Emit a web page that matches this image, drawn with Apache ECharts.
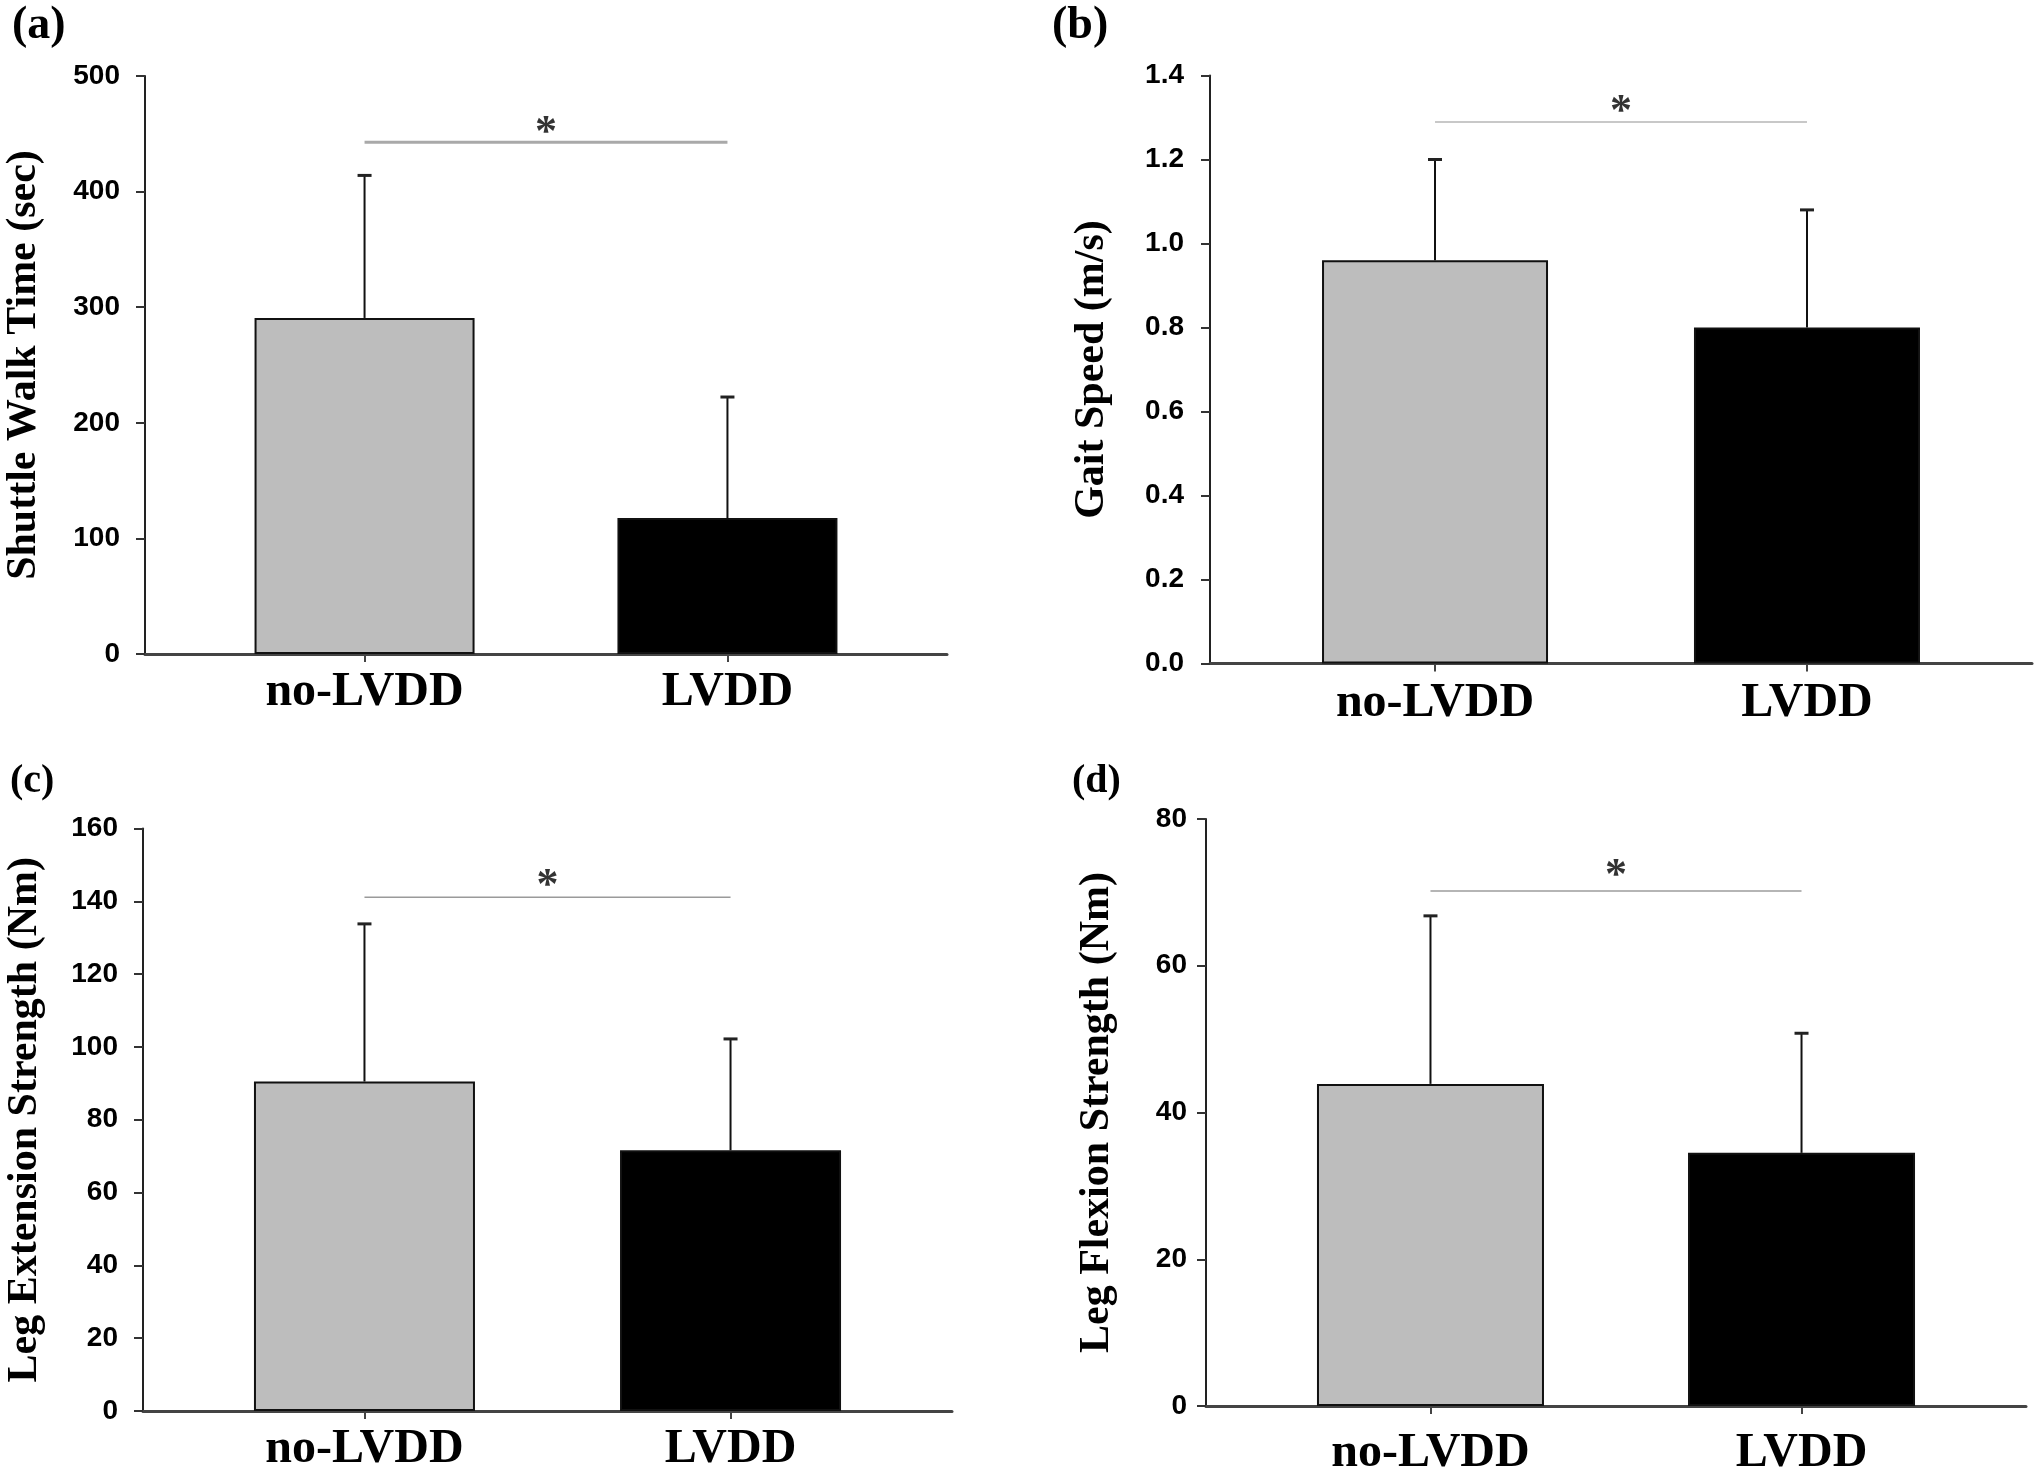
<!DOCTYPE html>
<html>
<head>
<meta charset="utf-8">
<script src="https://cdn.jsdelivr.net/npm/echarts@6/dist/echarts.min.js"></script>
<style>
html, body { margin: 0; padding: 0; background: #ffffff; }
#chart { width: 2040px; height: 1478px; }
</style>
</head>
<body>
<div id="chart"></div>
<script>
// ---------------- DATA ----------------
const categories = ['no-LVDD', 'LVDD'];
const panelLabels = ['(a)', '(b)', '(c)', '(d)'];
const yTitles = ['Shuttle Walk Time (sec)', 'Gait Speed (m/s)', 'Leg Extension Strength (Nm)', 'Leg Flexion Strength (Nm)'];

const shuttleMean = [290.7, 117.6];
const shuttleSD = [123.3, 104.7];
const gaitMean = [0.96, 0.80];
const gaitSD = [0.24, 0.28];
const extensionMean = [90.5, 71.6];
const extensionSD = [43.3, 30.6];
const flexionMean = [43.9, 34.5];
const flexionSD = [22.9, 16.3];

const sigLevels = [442.6, 1.289, 141.1, 70.2];
const sigMark = '*';

const yMax = [500, 1.4, 160, 80];
const yInterval = [100, 0.2, 20, 20];
const yDecimals = [0, 1, 0, 0];

const barColors = ['#bdbdbd', '#000000'];

// ---------------- LAYOUT / STYLE ----------------
const means = [shuttleMean, gaitMean, extensionMean, flexionMean];
const sds = [shuttleSD, gaitSD, extensionSD, flexionSD];

const layout = [
  { left: 145, top: 76, width: 802, height: 578, barWidth: 220, nameGap: 100, labelMargin: 25, catMargin: 15, starOff: -15, sigColor: '#a9a9a9', sigWidth: 3, lab: [12, 3], labSize: 46 },
  { left: 1210, top: 75.5, width: 822, height: 588, barWidth: 226, nameGap: 97, labelMargin: 26, catMargin: 16, starOff: -15, sigColor: '#c8c8c8', sigWidth: 2, lab: [1052, 3], labSize: 46 },
  { left: 143, top: 828.5, width: 809, height: 582.5, barWidth: 221, nameGap: 97, labelMargin: 25, catMargin: 15, starOff: -17, sigColor: '#9a9a9a', sigWidth: 1.5, lab: [10, 762], labSize: 40 },
  { left: 1206, top: 819, width: 820, height: 590.5, barWidth: 227, nameGap: 88, labelMargin: 19, catMargin: 24, starOff: -20, sigColor: '#b5b5b5', sigWidth: 2, lab: [1072, 762], labSize: 40 }
];

const serif = '"Liberation Serif", "Times New Roman", serif';
const sans = '"Liberation Sans", Arial, sans-serif';

const grids = [], xAxes = [], yAxes = [], series = [], graphics = [];

layout.forEach((L, i) => {
  grids.push({ left: L.left, top: L.top, width: L.width, height: L.height, containLabel: false });

  xAxes.push({
    type: 'value', gridIndex: i, min: -0.605, max: 1.605,
    splitLine: { show: false },
    axisLine: { show: true, onZero: false, lineStyle: { color: '#444444', width: 3 } },
    axisTick: { show: true, customValues: [0, 1], length: 8, lineStyle: { color: '#444444', width: 2 } },
    axisLabel: {
      customValues: [0, 1],
      formatter: v => categories[Math.round(v)],
      margin: L.catMargin,
      fontFamily: serif, fontWeight: 'bold', fontSize: 48, color: '#000'
    }
  });

  yAxes.push({
    type: 'value', gridIndex: i, min: 0, max: yMax[i], interval: yInterval[i],
    splitLine: { show: false },
    axisLine: { show: true, onZero: false, lineStyle: { color: '#222222', width: 2 } },
    axisTick: { show: true, length: 9, lineStyle: { color: '#333333', width: 2 } },
    axisLabel: {
      margin: L.labelMargin,
      formatter: v => Number(v).toFixed(yDecimals[i]),
      fontFamily: sans, fontWeight: 'bold', fontSize: 28, color: '#000'
    },
    name: yTitles[i], nameLocation: 'middle', nameGap: L.nameGap, nameRotate: 90,
    nameTextStyle: { fontFamily: serif, fontWeight: 'bold', fontSize: 42, color: '#000' }
  });

  // bars
  series.push({
    type: 'bar', xAxisIndex: i, yAxisIndex: i, barWidth: L.barWidth, z: 2,
    data: categories.map((c, k) => ({
      value: [k, means[i][k]],
      itemStyle: { color: barColors[k], borderColor: '#111111', borderWidth: 2 }
    }))
  });

  // error bars (upper only)
  series.push({
    type: 'custom', xAxisIndex: i, yAxisIndex: i, z: 3,
    data: categories.map((c, k) => [k, means[i][k], sds[i][k]]),
    renderItem: (params, api) => {
      const x = api.value(0), m = api.value(1), sd = api.value(2);
      const p0 = api.coord([x, m]);
      const p1 = api.coord([x, m + sd]);
      return {
        type: 'group',
        children: [
          { type: 'line', shape: { x1: p0[0], y1: p0[1], x2: p1[0], y2: p1[1] }, style: { stroke: '#111111', lineWidth: 2 } },
          { type: 'line', shape: { x1: p1[0] - 7, y1: p1[1], x2: p1[0] + 7, y2: p1[1] }, style: { stroke: '#222222', lineWidth: 3 } }
        ]
      };
    }
  });

  // significance line
  series.push({
    type: 'line', xAxisIndex: i, yAxisIndex: i, symbol: 'none', z: 1,
    lineStyle: { color: L.sigColor, width: L.sigWidth },
    data: [[0, sigLevels[i]], [1, sigLevels[i]]]
  });

  // asterisk
  series.push({
    type: 'scatter', xAxisIndex: i, yAxisIndex: i, symbolSize: 0, z: 4,
    data: [[0.5, sigLevels[i]]],
    label: {
      show: true, position: 'inside', offset: [0, L.starOff + 6],
      formatter: sigMark,
      fontFamily: serif, fontWeight: 'bold', fontSize: 44, color: '#000'
    }
  });

  graphics.push({
    type: 'text', left: L.lab[0], top: L.lab[1],
    style: { text: panelLabels[i], font: 'bold ' + L.labSize + 'px ' + serif, fill: '#000' }
  });
});

const chart = echarts.init(document.getElementById('chart'), null, { renderer: 'canvas' });
chart.setOption({
  backgroundColor: '#ffffff',
  animation: false,
  grid: grids,
  xAxis: xAxes,
  yAxis: yAxes,
  series: series,
  graphic: graphics
});
</script>
</body>
</html>
